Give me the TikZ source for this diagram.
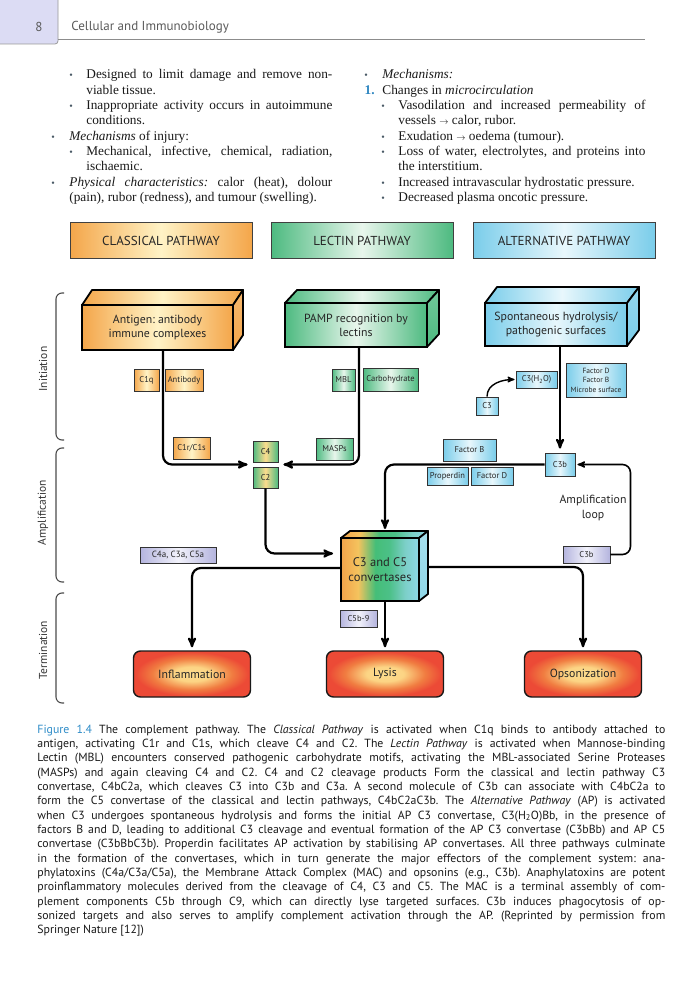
\documentclass[tikz,border=0pt]{standalone}
\usepackage{fontspec}
\setmainfont{Liberation Serif}
\setsansfont{PT Sans}
\frenchspacing
\usetikzlibrary{arrows,calc}
\definecolor{tabviolet}{HTML}{DCDCF4}
\definecolor{headgray}{HTML}{5A5A5A}
\definecolor{dotgray}{HTML}{4A5A66}
\definecolor{numblue}{HTML}{2E86C1}
\definecolor{capblue}{HTML}{2E8CC8}
\definecolor{orange500}{HTML}{F4A64A}
\definecolor{orange100}{HTML}{FFF3C6}
\definecolor{green500}{HTML}{4DBA80}
\definecolor{green100}{HTML}{E8F6EC}
\definecolor{blue500}{HTML}{7ACDEA}
\definecolor{blue100}{HTML}{E8F7FC}
\definecolor{lilac500}{HTML}{B4B4DE}
\definecolor{lilac100}{HTML}{F2F2FB}
\definecolor{red500}{HTML}{EC4A36}
\definecolor{yellow300}{HTML}{FDDC8E}
\definecolor{conv1}{HTML}{F2A24A}
\definecolor{conv2}{HTML}{F4C35E}
\definecolor{conv3}{HTML}{45BE78}
\definecolor{conv4}{HTML}{4CC088}
\definecolor{conv5}{HTML}{7CCFC8}
\definecolor{conv6}{HTML}{8FD7E8}
\pgfdeclarehorizontalshading{convshade}{100bp}{color(0bp)=(conv1); color(25bp)=(conv1); color(36bp)=(conv2); color(47bp)=(conv3); color(56bp)=(conv4); color(66bp)=(conv5); color(75bp)=(conv6); color(100bp)=(conv6)}
\pgfdeclareradialshading{effectshade}{\pgfpoint{0bp}{0bp}}{color(0bp)=(yellow300); color(8bp)=(yellow300!85!orange500); color(17bp)=(orange500!55!red500); color(24bp)=(red500); color(50bp)=(red500)}
\newcommand{\arrowsym}{{\fontsize{9.5}{10}\selectfont$\rightarrow$}}
\tikzstyle{headtext}=[inner sep=0pt, font=\sffamily\fontsize{13}{15}\selectfont, text=headgray]
\tikzstyle{bodyline}=[anchor=base west, inner sep=0pt, font=\fontsize{13.3}{15}\selectfont, text=black!90]
\tikzstyle{bulletdot}=[anchor=base, inner sep=0pt, font=\fontsize{10}{11}\selectfont, text=dotgray]
\tikzstyle{capline}=[anchor=base west, inner sep=0pt, font=\sffamily\fontsize{11.8}{13}\selectfont, text=black!90]
\tikzstyle{banner}=[draw=black!75, line width=1pt, minimum width=182pt, minimum height=35pt, inner sep=0pt, font=\sffamily\fontsize{13}{15}\selectfont, text=black!85]
\tikzstyle{cubeface}=[draw=black, line width=1.8pt, outer sep=0pt, inner sep=0pt, align=center, font=\sffamily\fontsize{11.8}{14}\selectfont, text=black!85]
\tikzstyle{cubeside}=[draw=black, line width=1.8pt, line join=round]
\tikzstyle{chip}=[draw=black!80, line width=0.9pt, inner sep=0pt, align=center, font=\sffamily\fontsize{8.5}{9.5}\selectfont, text=black!85]
\tikzstyle{effect}=[draw=black!90, line width=1.4pt, rounded corners=7pt, minimum width=117pt, minimum height=46pt, shade, shading=effectshade, font=\sffamily\fontsize{11.8}{13}\selectfont, text=black!85]
\tikzstyle{flow}=[line width=2.2pt, -stealth', rounded corners=9pt]
\tikzstyle{thinflow}=[line width=1.4pt, -stealth']
\tikzstyle{loopflow}=[line width=1.6pt, -stealth', rounded corners=8pt]
\tikzstyle{sidelabel}=[rotate=90, font=\sffamily\fontsize{11.5}{13}\selectfont, text=black!80]
\tikzstyle{brace}=[line width=1.1pt, black!70, rounded corners=6pt]
\tikzstyle{looptext}=[align=center, font=\sffamily\fontsize{11.8}{15}\selectfont, text=black!85]
\tikzstyle{orangefill}=[left color=orange500, right color=orange500, middle color=orange100]
\tikzstyle{greenfill}=[left color=green500, right color=green500, middle color=green100]
\tikzstyle{bluefill}=[left color=blue500, right color=blue500, middle color=blue100]
\tikzstyle{lilacfill}=[left color=lilac500, right color=lilac500, middle color=lilac100]
\tikzstyle{mixfill}=[left color=green500, right color=green500, middle color=yellow300]

\begin{document}
\begin{tikzpicture}[x=1pt,y=-1pt,thick]
	\useasboundingbox (0,0) rectangle (700,1000);
	\fill[white] (0,0) rectangle (700,1000);
	% running head
	\filldraw[fill=tabviolet, draw=black!40, line width=0.8pt, rounded corners=3pt] (-3,-3) rectangle (58,44);
	\node[headtext] (pageno) at (39,27) {8};
	\node[headtext, anchor=west] (runhead) at (71,27) {Cellular and Immunobiology};
	\draw[black!45, line width=0.8pt] (58,39) -- (645,39);
	% left column
	\node[bulletdot] (dotA) at (71,79) {\textbullet};
	\node[bodyline] (lineA1) at (86,79) {\makebox[246pt][s]{Designed to limit damage and remove non-}};
	\node[bodyline] (lineA2) at (86,94.3) {viable tissue.};
	\node[bulletdot] (dotB) at (71,109.6) {\textbullet};
	\node[bodyline] (lineB1) at (86,109.6) {\makebox[246pt][s]{Inappropriate activity occurs in autoimmune}};
	\node[bodyline] (lineB2) at (86,124.9) {conditions.};
	\node[bulletdot] (dotC) at (53,140.2) {\textbullet};
	\node[bodyline] (lineC1) at (69,140.2) {\textit{Mechanisms} of injury:};
	\node[bulletdot] (dotD) at (71,155.5) {\textbullet};
	\node[bodyline] (lineD1) at (86,155.5) {\makebox[246pt][s]{Mechanical, infective, chemical, radiation,}};
	\node[bodyline] (lineD2) at (86,170.8) {ischaemic.};
	\node[bulletdot] (dotE) at (53,186.1) {\textbullet};
	\node[bodyline] (lineE1) at (69,186.1) {\makebox[263pt][s]{\textit{Physical characteristics:} calor (heat), dolour}};
	\node[bodyline] (lineE2) at (69,201.4) {(pain), rubor (redness), and tumour (swelling).};
	% right column
	\node[bulletdot] (dotF) at (366,79) {\textbullet};
	\node[bodyline] (lineF1) at (382,79) {\textit{Mechanisms:}};
	\node[bodyline, anchor=base east, text=numblue, font=\bfseries\fontsize{13.3}{15}\selectfont] (numG) at (375,94.3) {1.};
	\node[bodyline] (lineG1) at (382,94.3) {Changes in \textit{microcirculation}};
	\node[bulletdot] (dotH) at (383,109.6) {\textbullet};
	\node[bodyline] (lineH1) at (398,109.6) {\makebox[247pt][s]{Vasodilation and increased permeability of}};
	\node[bodyline] (lineH2) at (398,124.9) {vessels \arrowsym{} calor, rubor.};
	\node[bulletdot] (dotI) at (383,140.2) {\textbullet};
	\node[bodyline] (lineI1) at (398,140.2) {Exudation \arrowsym{} oedema (tumour).};
	\node[bulletdot] (dotJ) at (383,155.5) {\textbullet};
	\node[bodyline] (lineJ1) at (398,155.5) {\makebox[247pt][s]{Loss of water, electrolytes, and proteins into}};
	\node[bodyline] (lineJ2) at (398,170.8) {the interstitium.};
	\node[bulletdot] (dotK) at (383,186.1) {\textbullet};
	\node[bodyline] (lineK1) at (398,186.1) {Increased intravascular hydrostatic pressure.};
	\node[bulletdot] (dotL) at (383,201.4) {\textbullet};
	\node[bodyline] (lineL1) at (398,201.4) {Decreased plasma oncotic pressure.};
	% pathway banners
	\node[banner, orangefill] (classical) at (161,240.5) {CLASSICAL PATHWAY};
	\node[banner, greenfill] (lectin) at (362,240.5) {LECTIN PATHWAY};
	\node[banner, bluefill] (alternative) at (564,240.5) {ALTERNATIVE PATHWAY};
	% stage braces
	\draw[brace] (64,293) -- (56,293) -- (56,440) -- (64,440);
	\draw[brace] (64,448) -- (56,448) -- (56,582) -- (64,582);
	\draw[brace] (64,593) -- (56,593) -- (56,703) -- (64,703);
	\node[sidelabel] (initiation) at (43,369) {Initiation};
	\node[sidelabel] (amplification) at (43,513) {Amplification};
	\node[sidelabel] (termination) at (43,650) {Termination};
	% initiating blocks
	\node[cubeface, orangefill, minimum width=151pt, minimum height=45pt] (antigen) at (157.5,327.5) {Antigen: antibody\\immune complexes};
	\shadedraw[cubeside, orangefill] (antigen.north west) -- ++(10,-15) -- ($(antigen.north east)+(10,-15)$) -- (antigen.north east) -- cycle;
	\shadedraw[cubeside, top color=orange500!80, bottom color=orange500] (antigen.north east) -- ++(10,-15) -- ($(antigen.south east)+(10,-15)$) -- (antigen.south east) -- cycle;
	\node[cubeface, greenfill, minimum width=142pt, minimum height=44pt] (pamp) at (356,325) {PAMP recognition by\\lectins};
	\shadedraw[cubeside, greenfill] (pamp.north west) -- ++(12,-13) -- ($(pamp.north east)+(12,-13)$) -- (pamp.north east) -- cycle;
	\shadedraw[cubeside, top color=green500!80, bottom color=green500] (pamp.north east) -- ++(12,-13) -- ($(pamp.south east)+(12,-13)$) -- (pamp.south east) -- cycle;
	\node[cubeface, bluefill, minimum width=142pt, minimum height=43pt] (hydro) at (556,324.5) {Spontaneous hydrolysis/\\pathogenic surfaces};
	\shadedraw[cubeside, bluefill] (hydro.north west) -- ++(12,-16) -- ($(hydro.north east)+(12,-16)$) -- (hydro.north east) -- cycle;
	\shadedraw[cubeside, top color=blue500!80, bottom color=blue500] (hydro.north east) -- ++(12,-16) -- ($(hydro.south east)+(12,-16)$) -- (hydro.south east) -- cycle;
	% convertases
	\node[cubeface, shade, shading=convshade, minimum width=78pt, minimum height=63pt, font=\sffamily\fontsize{12.5}{15.5}\selectfont] (conv) at (380,569.5) {C3 and C5\\convertases};
	\shadedraw[cubeside, shading=convshade] (conv.north west) -- ++(9,-7) -- ($(conv.north east)+(9,-7)$) -- (conv.north east) -- cycle;
	\shadedraw[cubeside, top color=conv6!80, bottom color=conv6] (conv.north east) -- ++(9,-7) -- ($(conv.south east)+(9,-7)$) -- (conv.south east) -- cycle;
	% components
	\node[chip, orangefill, minimum width=25pt, minimum height=22pt] (c1q) at (146.5,380) {C1q};
	\node[chip, orangefill, minimum width=38pt, minimum height=22pt] (antibody) at (184,380) {Antibody};
	\node[chip, orangefill, minimum width=37pt, minimum height=22pt] (c1rs) at (191.5,448) {C1r/C1s};
	\node[chip, mixfill, minimum width=25pt, minimum height=21pt] (c4) at (265.5,451.5) {C4};
	\node[chip, mixfill, minimum width=25pt, minimum height=21pt] (c2) at (265.5,477.5) {C2};
	\node[chip, greenfill, minimum width=23pt, minimum height=22pt] (mbl) at (343.5,380) {MBL};
	\node[chip, greenfill, minimum width=55pt, minimum height=23pt] (carbo) at (390.5,379.5) {Carbohydrate};
	\node[chip, greenfill, minimum width=37pt, minimum height=22pt] (masps) at (334.5,449) {MASPs};
	\node[chip, bluefill, minimum width=41pt, minimum height=17pt] (c3h2o) at (536.5,379.5) {C3(H\textsubscript{2}O)};
	\node[chip, bluefill, minimum width=60pt, minimum height=34pt, font=\sffamily\fontsize{7.5}{9.5}\selectfont] (factors) at (596,380) {Factor D\\Factor B\\Microbe surface};
	\node[chip, bluefill, minimum width=22pt, minimum height=18pt] (c3) at (487,406) {C3};
	\node[chip, bluefill, minimum width=53pt, minimum height=22pt] (factorb) at (469.5,450) {Factor B};
	\node[chip, bluefill, minimum width=41pt, minimum height=18pt] (properdin) at (447.5,476) {Properdin};
	\node[chip, bluefill, minimum width=42pt, minimum height=18pt] (factord) at (492,476) {Factor D};
	\node[chip, bluefill, minimum width=30pt, minimum height=23pt] (c3b) at (560,464.5) {C3b};
	\node[chip, lilacfill, minimum width=47pt, minimum height=17pt] (c3bloop) at (586.5,554.5) {C3b};
	\node[chip, lilacfill, minimum width=76pt, minimum height=16pt, font=\sffamily\fontsize{9}{10}\selectfont] (anaphyl) at (178,555) {C4a, C3a, C5a};
	\node[chip, lilacfill, minimum width=37pt, minimum height=17pt] (c5b9) at (358.5,618.5) {C5b-9};
	\node[looptext] (looplabel) at (593,508) {Amplification\\loop};
	% effectors
	\node[effect] (inflam) at (192,674) {Inflammation};
	\node[effect] (lysis) at (385,674) {Lysis};
	\node[effect] (opson) at (583,674) {Opsonization};
	% connectors
	\coordinate (c42w) at ($(c4.south west)!.5!(c2.north west)$);
	\coordinate (c42e) at ($(c4.south east)!.5!(c2.north east)$);
	\path[draw, flow, shorten >=5pt] ([xshift=5.5pt]antigen.south) |- (c42w);
	\path[draw, flow, shorten >=5pt] ([xshift=3pt]pamp.south) |- (c42e);
	\path[draw, flow, shorten >=8pt] (c2.south) |- ([yshift=16pt]conv.west);
	\path[draw, flow, shorten >=3pt] ([yshift=1.5pt]conv.west) -| (inflam.north);
	\path[draw, flow, shorten >=3pt] (conv.south -| lysis.north) -- (lysis.north);
	\path[draw, flow, shorten >=3pt] ([xshift=9pt,yshift=2.5pt]conv.east) -| (opson.north);
	\path[draw, flow, shorten >=4pt] (hydro.south -| c3b.north) -- (c3b.north);
	\path[draw, flow] (c3b.west) -| ([xshift=5pt,yshift=9pt]conv.north);
	\path[draw, thinflow, shorten >=1pt] (c3.north) to[out=90,in=180] (c3h2o.west);
	\path[draw, loopflow, shorten >=2pt] (c3bloop.east) -- ++(20,0) |- (c3b.east);
	% caption
	\node[capline] (cap01) at (37,733) {\makebox[628pt][s]{{\color{capblue}Figure 1.4} The complement pathway. The \textit{Classical Pathway} is activated when C1q binds to antibody attached to}};
	\node[capline] (cap02) at (37,747.3) {\makebox[628pt][s]{antigen, activating C1r and C1s, which cleave C4 and C2. The \textit{Lectin Pathway} is activated when Mannose-binding}};
	\node[capline] (cap03) at (37,761.7) {\makebox[628pt][s]{Lectin (MBL) encounters conserved pathogenic carbohydrate motifs, activating the MBL-associated Serine Proteases}};
	\node[capline] (cap04) at (37,776) {\makebox[628pt][s]{(MASPs) and again cleaving C4 and C2. C4 and C2 cleavage products Form the classical and lectin pathway C3}};
	\node[capline] (cap05) at (37,790.3) {\makebox[628pt][s]{convertase, C4bC2a, which cleaves C3 into C3b and C3a. A second molecule of C3b can associate with C4bC2a to}};
	\node[capline] (cap06) at (37,804.7) {\makebox[628pt][s]{form the C5 convertase of the classical and lectin pathways, C4bC2aC3b. The \textit{Alternative Pathway} (AP) is activated}};
	\node[capline] (cap07) at (37,819) {\makebox[628pt][s]{when C3 undergoes spontaneous hydrolysis and forms the initial AP C3 convertase, C3(H\textsubscript{2}O)Bb, in the presence of}};
	\node[capline] (cap08) at (37,833.3) {\makebox[628pt][s]{factors B and D, leading to additional C3 cleavage and eventual formation of the AP C3 convertase (C3bBb) and AP C5}};
	\node[capline] (cap09) at (37,847.6) {\makebox[628pt][s]{convertase (C3bBbC3b). Properdin facilitates AP activation by stabilising AP convertases. All three pathways culminate}};
	\node[capline] (cap10) at (37,862) {\makebox[628pt][s]{in the formation of the convertases, which in turn generate the major effectors of the complement system: ana-}};
	\node[capline] (cap11) at (37,876.3) {\makebox[628pt][s]{phylatoxins (C4a/C3a/C5a), the Membrane Attack Complex (MAC) and opsonins (e.g., C3b). Anaphylatoxins are potent}};
	\node[capline] (cap12) at (37,890.6) {\makebox[628pt][s]{proinflammatory molecules derived from the cleavage of C4, C3 and C5. The MAC is a terminal assembly of com-}};
	\node[capline] (cap13) at (37,905) {\makebox[628pt][s]{plement components C5b through C9, which can directly lyse targeted surfaces. C3b induces phagocytosis of op-}};
	\node[capline] (cap14) at (37,919.3) {\makebox[628pt][s]{sonized targets and also serves to amplify complement activation through the AP. (Reprinted by permission from}};
	\node[capline] (cap15) at (37,933.6) {Springer Nature [12])};
\end{tikzpicture}
\end{document}
